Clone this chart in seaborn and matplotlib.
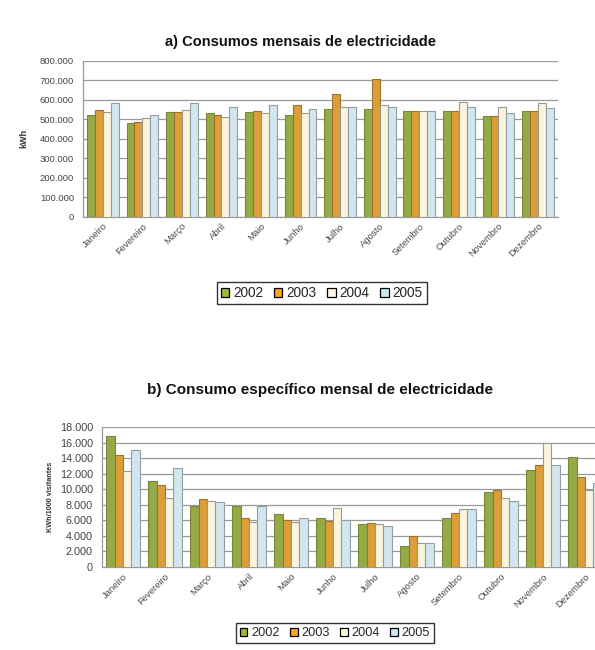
import pandas as pd
import seaborn as sns
import matplotlib.pyplot as plt
from matplotlib.patches import Patch
from matplotlib.ticker import FuncFormatter, FixedLocator

# meses e anos
meses = ["Janeiro", "Fevereiro", "Março", "Abril", "Maio", "Junho",
         "Julho", "Agosto", "Setembro", "Outubro", "Novembro", "Dezembro"]
anos = ["2002", "2003", "2004", "2005"]

# a) consumos mensais (kWh)
kwh_2002 = [521000, 479000, 537000, 530000, 538000, 521000, 552000, 552000, 544000, 544000, 518000, 544000]
kwh_2003 = [547000, 487000, 537000, 521000, 544000, 573000, 629000, 704000, 544000, 544000, 518000, 544000]
kwh_2004 = [537000, 504000, 547000, 513000, 530000, 530000, 561000, 573000, 544000, 590000, 561000, 581000]
kwh_2005 = [581000, 521000, 581000, 561000, 573000, 552000, 561000, 561000, 544000, 561000, 530000, 556000]

# b) consumo especifico (kWh/1000 visitantes)
esp_2002 = [16800, 11100, 7800, 7900, 6800, 6300, 5500, 2700, 6300, 9600, 12500, 14200]
esp_2003 = [14400, 10600, 8700, 6300, 6100, 5900, 5600, 4000, 7000, 9900, 13100, 11600]
esp_2004 = [12300, 8900, 8500, 5800, 5800, 7600, 5500, 3100, 7400, 8900, 15900, 9900]
esp_2005 = [15100, 12700, 8300, 7800, 6300, 6100, 5300, 3100, 7400, 8500, 13100, 10800]

cores = ["#9dbc34", "#f8a51c", "#fff8dc", "#cde8f5"]
bordas = ["#77883a", "#a07030", "#9a9a8c", "#929ea4"]


def montar(series):
    linhas = []
    for ano, valores in zip(anos, series):
        for mes, v in zip(meses, valores):
            linhas.append({"Mês": mes, "Ano": ano, "Valor": v})
    return pd.DataFrame(linhas)


def fmt_milhar(x, pos):
    return f"{int(x):,}".replace(",", ".")


def desenhar(ax, df, ymax, passo, ylabel, lab_size, ytick_size):
    sns.barplot(data=df, x="Mês", y="Valor", hue="Ano", palette=cores,
                width=0.8, ax=ax, legend=False, zorder=3)
    for i, cont in enumerate(ax.containers):
        for barra in cont:
            barra.set_edgecolor(bordas[i])
            barra.set_linewidth(0.8)
    ax.set_ylim(0, ymax)
    ax.set_xlim(-0.5, len(meses) - 0.5)
    ax.set_yticks(range(0, ymax + 1, passo))
    ax.yaxis.set_major_formatter(FuncFormatter(fmt_milhar))
    ax.grid(axis="y", color="#9a9a9a", linewidth=0.9, zorder=0)
    for s in ["top", "right"]:
        ax.spines[s].set_visible(False)
    for s in ["left", "bottom"]:
        ax.spines[s].set_color("#9a9a9a")
        ax.spines[s].set_linewidth(0.9)
    ax.set_xlabel("")
    ax.set_ylabel(ylabel, fontsize=lab_size, fontweight="bold", color="#333333")
    ax.tick_params(axis="y", labelsize=ytick_size, colors="#444444", length=3, color="#9a9a9a")
    ax.tick_params(axis="x", which="major", length=0, labelsize=6.8, colors="#4a4a4a")
    ax.xaxis.set_minor_locator(FixedLocator([i - 0.5 for i in range(len(meses) + 1)]))
    ax.tick_params(axis="x", which="minor", length=3, color="#9a9a9a")
    plt.setp(ax.get_xticklabels(), rotation=45, ha="right", rotation_mode="anchor")


sns.set_style("white")
plt.rcParams["font.family"] = ["Liberation Sans", "DejaVu Sans"]

fig = plt.figure(figsize=(5.95, 6.5), dpi=100)

ax1 = fig.add_axes([0.1395, 0.6666, 0.798, 0.240])
desenhar(ax1, montar([kwh_2002, kwh_2003, kwh_2004, kwh_2005]), 800000, 100000, "kWh", 6.5, 6.8)
ax1.yaxis.set_label_coords(-0.115, 0.5)
fig.text(0.505, 0.935, "a) Consumos mensais de electricidade", ha="center", va="center",
         fontsize=10.5, fontweight="bold", color="#111111")

ax2 = fig.add_axes([0.1714, 0.1277, 0.847, 0.2154])
desenhar(ax2, montar([esp_2002, esp_2003, esp_2004, esp_2005]), 18000, 2000,
         "KWh/1000 visitantes", 5.2, 7.8)
fig.text(0.538, 0.400, "b) Consumo específico mensal de electricidade", ha="center", va="center",
         fontsize=11, fontweight="bold", color="#111111")

handles = [Patch(facecolor=c, edgecolor="black", linewidth=0.9) for c in cores]
for pos, fs in [((0.541, 0.549), 9.8), ((0.563, 0.026), 9.2)]:
    leg = fig.legend(handles, anos, loc="center", bbox_to_anchor=pos, ncol=4,
                     fontsize=fs, frameon=True, fancybox=False, handlelength=0.6,
                     handleheight=0.6, handletextpad=0.3, columnspacing=0.8,
                     borderpad=0.3)
    leg.get_frame().set_edgecolor("black")
    leg.get_frame().set_linewidth(1.0)

fig.savefig("out.png", dpi=100)
